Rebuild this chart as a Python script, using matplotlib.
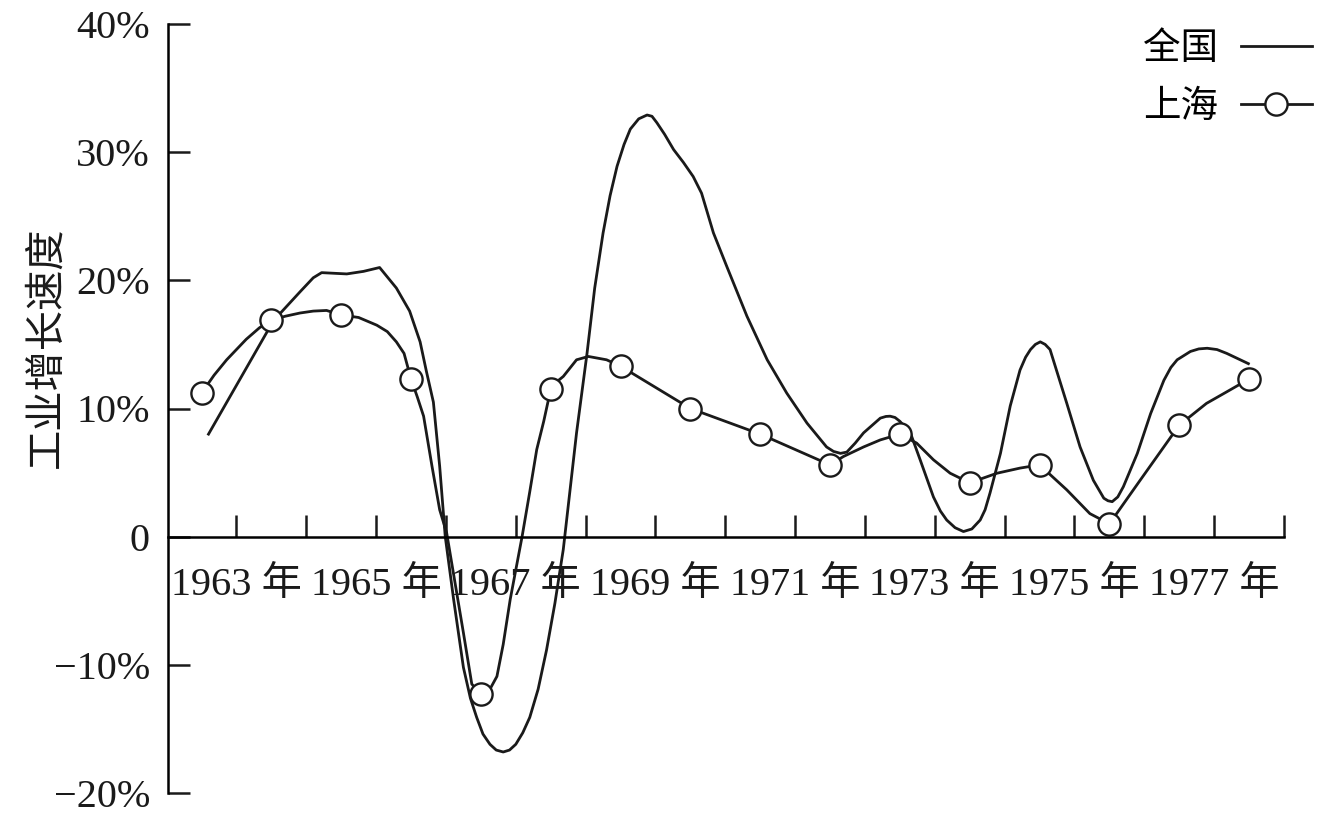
import numpy as np
import matplotlib
matplotlib.use('Agg')
import matplotlib.pyplot as plt

plt.rcParams['font.family'] = ['Liberation Serif', 'Noto Sans CJK SC']

# Shanghai: yearly values (circles)
years = list(range(1963, 1979))
shanghai = [11.2, 16.9, 17.3, 12.3, -12.3, 11.5, 13.3, 10.0,
            8.0, 5.6, 8.0, 4.2, 5.6, 1.0, 8.7, 12.3]

# Shanghai curve between the circles
sh_mid_x = [1963.18, 1963.36, 1963.64, 1963.83, 1964.20, 1964.41, 1964.60, 1964.79,
            1965.25, 1965.51, 1965.66, 1965.79, 1965.90,
            1966.09, 1966.18, 1966.30, 1966.41, 1966.51, 1966.63, 1966.75, 1966.87,
            1967.10, 1967.23, 1967.32, 1967.42, 1967.59, 1967.70, 1967.80, 1967.90,
            1968.09, 1968.18, 1968.37, 1968.54, 1968.80,
            1972.19, 1972.48, 1972.72, 1973.24, 1973.48, 1973.72,
            1974.39, 1974.72, 1975.39, 1975.72, 1976.44, 1977.39, 1977.68]
sh_mid_y = [12.6, 13.8, 15.4, 16.3, 17.2, 17.45, 17.6, 17.65,
            17.1, 16.5, 16.0, 15.2, 14.3,
            10.9, 9.4, 5.5, 2.1, 0.3, -3.6, -7.5, -11.5,
            -12.2, -10.9, -8.4, -4.9, 0.0, 3.5, 6.8, 9.0,
            12.1, 12.5, 13.8, 14.06, 13.8,
            6.25, 7.0, 7.55, 7.3, 6.0, 4.95,
            4.95, 5.35, 3.65, 1.8, 4.4, 10.4, 11.3]

# national curve
nat_x = [1963.10, 1964.03, 1964.41, 1964.60, 1964.72, 1964.90,
         1965.08, 1965.32, 1965.55,
         1965.79, 1965.98, 1966.13, 1966.22, 1966.32, 1966.41, 1966.49,
         1966.61, 1966.75, 1966.85, 1966.94, 1967.03, 1967.13, 1967.22,
         1967.32, 1967.41, 1967.50, 1967.60, 1967.70, 1967.82,
         1967.94, 1968.06, 1968.18, 1968.37, 1968.52, 1968.63, 1968.75,
         1968.85, 1968.95, 1969.05, 1969.14, 1969.26, 1969.38, 1969.45,
         1969.52, 1969.63, 1969.76, 1969.90, 1970.04, 1970.16, 1970.33,
         1970.52, 1970.81, 1971.10, 1971.38, 1971.67, 1971.95, 1972.05,
         1972.15, 1972.24, 1972.36, 1972.48, 1972.72, 1972.80, 1972.86,
         1972.93, 1973.00, 1973.15, 1973.29, 1973.48, 1973.58, 1973.67,
         1973.79, 1973.91, 1974.03, 1974.15, 1974.22, 1974.29, 1974.44,
         1974.58, 1974.72, 1974.80, 1974.87, 1974.94, 1975.01, 1975.08,
         1975.15, 1975.27, 1975.39, 1975.58, 1975.77, 1975.92, 1975.98,
         1976.04, 1976.12, 1976.20, 1976.40, 1976.59, 1976.78, 1976.88,
         1976.97, 1977.16, 1977.28, 1977.40, 1977.54, 1977.68, 1977.99]
nat_y = [8.0, 16.85, 19.1, 20.2, 20.6, 20.55,
         20.5, 20.7, 21.0,
         19.4, 17.6, 15.2, 12.9, 10.5, 5.5, 0.0,
         -4.9, -10.2, -12.6, -14.1, -15.4, -16.2, -16.65,
         -16.8, -16.65, -16.2, -15.3, -14.1, -11.9,
         -8.85, -5.2, -1.0, 8.1, 14.3, 19.4, 23.7,
         26.6, 28.9, 30.6, 31.8, 32.6, 32.9, 32.8,
         32.3, 31.4, 30.2, 29.2, 28.1, 26.8, 23.7,
         21.1, 17.2, 13.8, 11.2, 8.86, 7.0, 6.65,
         6.5, 6.6, 7.3, 8.1, 9.25, 9.38, 9.4,
         9.3, 9.0, 8.1, 6.0, 3.1, 2.0, 1.3,
         0.7, 0.4, 0.6, 1.3, 2.1, 3.4, 6.5,
         10.2, 13.0, 14.0, 14.6, 15.0, 15.2, 15.0,
         14.6, 12.5, 10.4, 7.0, 4.4, 3.0, 2.8,
         2.73, 3.1, 3.9, 6.5, 9.6, 12.2, 13.2,
         13.8, 14.45, 14.65, 14.7, 14.6, 14.3, 13.5]

yticks = [-20, -10, 0, 10, 20, 30, 40]
ylabels = ['\u221220%', '\u221210%', '0', '10%', '20%', '30%', '40%']

# merge circles and in-between points into one Shanghai curve
pts = sorted(zip(years + sh_mid_x, shanghai + sh_mid_y))
sh_x = [p[0] for p in pts]
sh_y = [p[1] for p in pts]
circle_idx = [sh_x.index(y) for y in years]

fig = plt.figure(figsize=(13.44, 8.25), dpi=100)
ax = fig.add_axes([168 / 1344, 1 - 793 / 825, 1116 / 1344, 769 / 825])

ax.plot(nat_x, nat_y, color='#1a1a1a', lw=2.0, solid_joinstyle='round',
        label='全国')
ax.plot(sh_x, sh_y, color='#1a1a1a', lw=2.0, solid_joinstyle='round',
        marker='o', markevery=circle_idx, markersize=16,
        markerfacecolor='white', markeredgecolor='#1a1a1a',
        markeredgewidth=1.7, label='上海')

ax.set_xlim(1962.52, 1978.5)
ax.set_ylim(-20, 40)

for s in ['top', 'right']:
    ax.spines[s].set_visible(False)
ax.spines['bottom'].set_position(('data', 0))
ax.spines['left'].set_linewidth(1.8)
ax.spines['bottom'].set_linewidth(1.8)

xt = np.arange(1963.5, 1979, 1)
xl = ['%d 年' % int(t) if int(t) % 2 == 1 else '' for t in xt]
ax.set_xticks(xt)
ax.set_xticklabels(xl, fontsize=29)
ax.set_yticks(yticks)
ax.set_yticklabels(ylabels, fontsize=29)
ax.tick_params(axis='x', direction='in', length=16, width=1.8, pad=22,
               colors='#1a1a1a')
ax.tick_params(axis='y', direction='in', length=16, width=1.8, pad=13,
               colors='#1a1a1a')

fig.text(46 / 1344, 1 - 347 / 825, '工业增长速度', rotation=90, ha='center',
         va='center', fontsize=29, family='Noto Sans CJK SC', color='#1a1a1a')

ax.legend(loc='upper right', bbox_to_anchor=(1327 / 1344, 1 - 14 / 825),
          bbox_transform=fig.transFigure, frameon=False, markerfirst=False,
          borderaxespad=0, handlelength=1.9, handletextpad=0.6,
          labelspacing=0.5, prop={'family': 'Noto Sans CJK SC', 'size': 27})

fig.savefig('out.png', dpi=100)
